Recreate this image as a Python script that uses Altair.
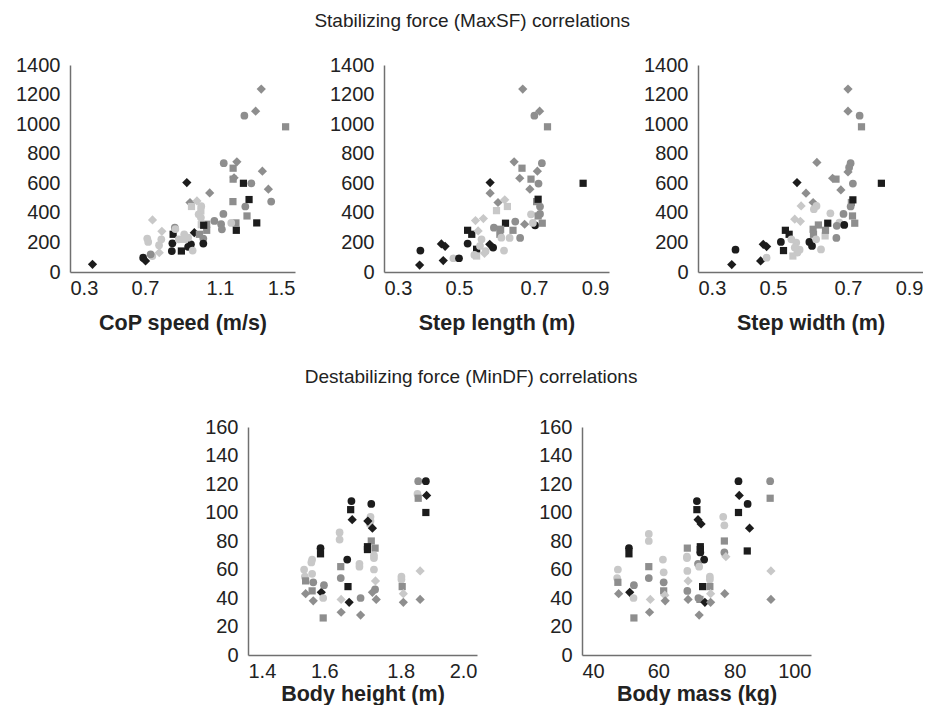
import altair as alt
import pandas as pd

# ---------------- data ----------------
# codes: first letter tone (k=black, g=dark gray, l=light gray), second letter marker (c=circle, s=square, d=diamond)
cop_x = [0.42, 1.32, 1.29, 1.23, 1.45, 1.12, 1.19, 1.17, 1.17, 1.175, 1.225, 1.267, 1.326, 1.358, 1.373,
         1.255, 1.169, 1.235, 1.244, 1.296, 1.185, 1.16, 1.187, 1.045, 1.118, 1.07, 1.106, 1.11, 1.029, 1.029,
         1.0, 0.923, 0.94, 0.977, 0.948, 0.998, 1.0, 0.986, 0.998, 1.013, 0.963, 1.011, 1.011, 0.99, 0.945,
         0.93, 0.894, 0.846, 0.843, 0.85, 0.859, 0.862, 0.909, 0.909, 0.954, 0.88, 0.93, 0.74, 0.79, 0.712,
         0.717, 0.775, 0.787, 0.776, 0.739, 0.73, 0.69, 0.703]
cop_y = [52, 1237, 1088, 1057, 982, 736, 745, 702, 628, 637, 600, 600, 682, 560, 476,
         490, 476, 443, 379, 332, 332, 332, 282, 535, 393, 345, 323, 289, 323, 282,
         320, 605, 470, 481, 443, 413, 445, 390, 368, 316, 266, 226, 192, 255, 187,
         170, 142, 194, 142, 255, 300, 290, 255, 221, 145, 221, 232, 352, 275, 226,
         203, 181, 221, 131, 108, 120, 97, 75]
cop_s = ["kd", "gd", "gd", "gc", "gs", "gc", "gd", "gs", "gs", "gd", "ks", "gc", "gd", "gd", "gc",
         "ks", "gs", "gc", "gs", "ks", "gs", "lc", "ks", "gd", "gc", "gc", "gc", "gc", "gs", "gs",
         "ls", "kd", "gd", "ld", "ls", "ls", "lc", "lc", "lc", "ks", "kd", "gc", "kc", "gs", "kc",
         "kc", "ks", "kc", "kc", "ks", "gc", "lc", "lc", "ls", "lc", "lc", "lc", "ld", "ld", "lc",
         "lc", "lc", "lc", "ld", "lc", "gc", "kc", "kd"]

sl_x = [0.395, 0.397, 0.458, 0.453, 0.463, 0.485, 0.5, 0.523, 0.523, 0.534, 0.544, 0.565, 0.551, 0.547,
        0.547, 0.541, 0.556, 0.56, 0.571, 0.568, 0.583, 0.583, 0.604, 0.622, 0.6, 0.629, 0.582, 0.591,
        0.593, 0.62, 0.624, 0.611, 0.609, 0.644, 0.65, 0.675, 0.663, 0.613, 0.635, 0.692, 0.716, 0.703,
        0.697, 0.722, 0.711, 0.716, 0.707, 0.711, 0.712, 0.689, 0.709, 0.721, 0.647, 0.668, 0.662, 0.692,
        0.67, 0.715, 0.701, 0.736, 0.831]
sl_y = [47, 145, 77, 190, 174, 93, 93, 192, 282, 255, 348, 361, 278, 154,
        108, 115, 176, 221, 142, 126, 605, 533, 470, 488, 415, 443, 187, 165,
        300, 145, 330, 289, 255, 282, 341, 323, 230, 232, 230, 390, 393, 316,
        332, 330, 379, 443, 476, 492, 598, 560, 682, 736, 745, 702, 634, 628,
        1237, 1088, 1057, 982, 600]
sl_s = ["kd", "kc", "kd", "kd", "kd", "lc", "kc", "kc", "ks", "ks", "ld", "ld", "ld", "ks",
        "ls", "lc", "lc", "lc", "lc", "ld", "kd", "gd", "gd", "ld", "ls", "ls", "kd", "kc",
        "gc", "lc", "ks", "gs", "gs", "gs", "gc", "gd", "gc", "lc", "lc", "lc", "gc", "kc",
        "lc", "gs", "gs", "gc", "gs", "ks", "gc", "gd", "gd", "gc", "gd", "gs", "gd", "gs",
        "gd", "gd", "gc", "gs", "ks"]

sw_x = [0.39, 0.4, 0.467, 0.474, 0.483, 0.483, 0.521, 0.533, 0.528, 0.543, 0.558, 0.573, 0.564, 0.588,
        0.607, 0.575, 0.609, 0.616, 0.549, 0.562, 0.558, 0.571, 0.565, 0.553, 0.604, 0.597, 0.628, 0.607,
        0.608, 0.621, 0.615, 0.639, 0.64, 0.646, 0.653, 0.677, 0.67, 0.669, 0.69, 0.688, 0.712, 0.718,
        0.707, 0.709, 0.713, 0.713, 0.681, 0.7, 0.707, 0.703, 0.617, 0.668, 0.659, 0.7, 0.7, 0.731,
        0.736, 0.789]
sw_y = [50, 151, 75, 187, 172, 97, 203, 282, 145, 255, 357, 343, 605, 533,
        470, 447, 425, 447, 221, 199, 165, 151, 131, 108, 176, 203, 153, 289,
        255, 318, 221, 244, 282, 330, 397, 334, 312, 230, 318, 393, 379, 330,
        443, 470, 488, 598, 555, 677, 736, 707, 741, 628, 634, 1237, 1088, 1057,
        982, 600]
sw_s = ["kd", "kc", "kd", "kd", "kd", "lc", "kc", "ks", "ks", "ks", "ld", "ld", "kd", "gd",
        "gd", "ld", "lc", "lc", "lc", "lc", "lc", "lc", "lc", "ls", "kc", "kc", "lc", "gs",
        "gs", "gs", "lc", "ls", "gs", "ks", "lc", "lc", "gc", "gc", "kc", "gc", "gs", "gs",
        "gc", "gs", "ks", "gc", "gd", "gd", "gc", "gc", "gd", "gs", "gd", "gd", "gd", "gc",
        "gs", "ks"]

bh_x = [1.846, 1.866, 1.868, 1.844, 1.846, 1.866, 1.851, 1.851, 1.802, 1.802, 1.804, 1.807, 1.807,
        1.671, 1.669, 1.673, 1.723, 1.721, 1.721, 1.719, 1.714, 1.726, 1.723, 1.713, 1.713, 1.733,
        1.73, 1.73, 1.66, 1.692, 1.692, 1.73, 1.734, 1.733, 1.726, 1.736, 1.695, 1.695, 1.643, 1.643,
        1.662, 1.665, 1.644, 1.644, 1.64, 1.64, 1.59, 1.59, 1.568, 1.566, 1.592, 1.599, 1.597, 1.597,
        1.571, 1.568, 1.547, 1.568, 1.549, 1.551, 1.551, 1.571]
bh_y = [122, 122, 112, 113, 110, 100, 59, 39, 55, 53, 48, 43, 37,
        108, 102, 95, 106, 97, 94, 92, 94, 89, 80, 76, 74, 75,
        70, 68, 67, 64, 62, 60, 52, 46, 44, 39, 40, 28, 54, 62,
        48, 37, 39, 30, 86, 81, 75, 71, 67, 65, 44, 49, 40, 26,
        51, 45, 60, 57, 55, 52, 43, 38]
bh_s = ["gc", "kc", "kd", "lc", "gs", "ks", "ld", "gd", "lc", "lc", "gs", "ld", "gd",
        "kc", "ks", "kd", "kc", "lc", "lc", "lc", "kd", "kd", "gs", "ks", "ks", "gs",
        "lc", "lc", "kc", "lc", "lc", "lc", "ld", "gc", "gd", "gd", "gc", "gd", "gc", "gs",
        "ks", "kd", "ld", "gd", "lc", "lc", "kc", "ks", "lc", "lc", "kd", "gc", "lc", "gs",
        "gc", "gs", "lc", "lc", "lc", "gs", "gd", "gd"]

bm_x = [89.3, 89.3, 89.5, 89.5, 81.0, 81.2, 81.0, 83.4, 83.9, 83.3, 77.0, 77.3, 77.3, 77.3, 77.7,
        77.4, 70.1, 70.1, 70.4, 71.2, 71.0, 71.0, 71.0, 72.0, 67.6, 67.5, 67.5, 70.4, 70.7, 67.6,
        67.8, 67.6, 67.8, 71.6, 70.5, 70.9, 72.2, 70.7, 73.5, 73.5, 73.5, 73.7, 73.7, 57.5, 57.5,
        57.5, 57.5, 57.9, 57.7, 61.2, 61.4, 61.4, 61.4, 61.7, 61.8, 52.3, 52.3, 52.5, 53.6, 53.5,
        53.6, 49.4, 49.2, 49.4, 49.6]
bm_y = [122, 110, 59, 39, 122, 112, 100, 106, 89, 73, 97, 91, 80, 72, 69,
        43, 108, 102, 95, 92, 76, 74, 72, 67, 75, 69, 68, 64, 62, 59,
        52, 45, 39, 48, 40, 39, 37, 28, 55, 53, 48, 43, 37, 85, 80,
        62, 54, 39, 30, 67, 58, 51, 45, 42, 38, 75, 71, 44, 49, 40,
        26, 60, 54, 51, 43]
bm_s = ["gc", "gs", "ld", "gd", "kc", "kd", "ks", "kc", "kd", "ks", "lc", "lc", "gs", "gc", "ld",
        "gd", "kc", "ks", "kd", "kd", "ks", "ks", "kc", "kc", "gs", "lc", "lc", "gc", "lc", "lc",
        "ld", "gc", "gd", "ks", "gc", "gs", "kd", "gd", "lc", "lc", "gs", "ld", "gd", "lc", "lc",
        "gs", "gc", "ld", "gd", "lc", "lc", "gc", "gs", "ld", "gd", "kc", "ks", "kd", "gc", "lc",
        "gs", "lc", "lc", "gs", "gd"]

TONES = {"k": "black", "g": "gray", "l": "light"}
MARKS = {"c": "circle", "s": "square", "d": "diamond"}
SYMBOL_AREA = {"circle": 60, "square": 52, "diamond": 85}
FONT = "Liberation Sans"


def frame(xs, ys, codes):
    marks = [MARKS[c[1]] for c in codes]
    return pd.DataFrame({
        "x": xs, "y": ys,
        "tone": [TONES[c[0]] for c in codes],
        "marker": marks,
        "area": [SYMBOL_AREA[m] for m in marks],
    })


def panel(df, title, xdom, xvals, ymax, ystep, w, h, xfmt, tpad):
    return alt.Chart(df).mark_point(filled=True, opacity=1, strokeWidth=0).encode(
        x=alt.X("x:Q", title=title,
                scale=alt.Scale(domain=xdom, nice=False, zero=False),
                axis=alt.Axis(values=xvals, format=xfmt, titlePadding=tpad)),
        y=alt.Y("y:Q", title=None,
                scale=alt.Scale(domain=[0, ymax], nice=False),
                axis=alt.Axis(values=list(range(0, ymax + 1, ystep)), format="d")),
        color=alt.Color("tone:N", legend=None,
                        scale=alt.Scale(domain=["black", "gray", "light"],
                                        range=["#1c1c1c", "#8e8e8e", "#c8c8c8"])),
        shape=alt.Shape("marker:N", legend=None,
                        scale=alt.Scale(domain=["circle", "square", "diamond"],
                                        range=["circle", "square", "diamond"])),
        size=alt.Size("area:Q", legend=None, scale=None),
    ).properties(width=w, height=h)


p1 = panel(frame(cop_x, cop_y, cop_s), "CoP speed (m/s)", [0.3, 1.5], [0.3, 0.7, 1.1, 1.5], 1400, 200, 225, 207, ".1f", 14)
p2 = panel(frame(sl_x, sl_y, sl_s), "Step length (m)", [0.3, 0.9], [0.3, 0.5, 0.7, 0.9], 1400, 200, 225, 207, ".1f", 14)
p3 = panel(frame(sw_x, sw_y, sw_s), "Step width (m)", [0.3, 0.9], [0.3, 0.5, 0.7, 0.9], 1400, 200, 225, 207, ".1f", 14)
p4 = panel(frame(bh_x, bh_y, bh_s), "Body height (m)", [1.4, 2.0], [1.4, 1.6, 1.8, 2.0], 160, 20, 229, 228, ".1f", 2)
p5 = panel(frame(bm_x, bm_y, bm_s), "Body mass (kg)", [40, 100], [40, 60, 80, 100], 160, 20, 229, 228, "d", 2)

spacer = alt.Chart(pd.DataFrame({"v": [0]})).mark_point(opacity=0).encode(
    x=alt.value(0), y=alt.value(0)
).properties(width=73, height=228)

top = alt.hconcat(p1, p2, p3, spacing=34).properties(
    title=alt.TitleParams("Stabilizing force (MaxSF) correlations", anchor="middle", offset=24, dx=3)
)
bottom = alt.hconcat(spacer, p4, p5, spacing=61).properties(
    title=alt.TitleParams("Destabilizing force (MinDF) correlations", anchor="middle", offset=30, dx=32)
)

chart = alt.vconcat(top, bottom, spacing=34).properties(
    padding={"left": 7, "top": 4, "right": 0, "bottom": 0}
).configure_view(stroke=None).configure_axis(
    grid=False, ticks=False, domainColor="#707070", domainWidth=1.5,
    labelFont=FONT, labelFontSize=20, labelColor="#222222",
    titleFont=FONT, titleFontSize=21.5, titleFontWeight="bold", titleColor="#222222",
).configure_axisY(labelPadding=10).configure_axisX(labelPadding=6).configure_title(
    font=FONT, fontSize=19, fontWeight="normal", color="#222222"
)

chart.save("out.html", embed_options={"renderer": "svg", "actions": False})
